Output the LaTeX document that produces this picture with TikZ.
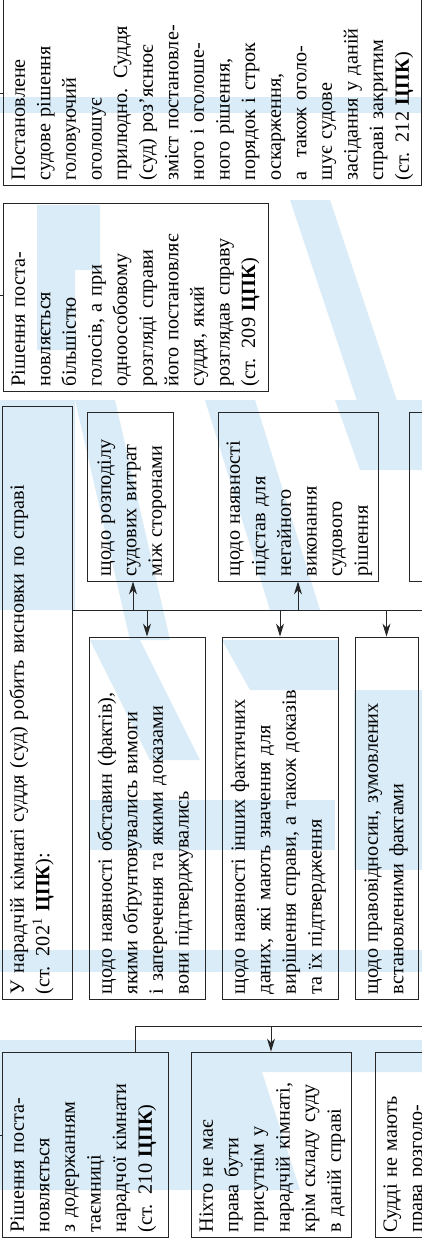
\documentclass[tikz,border=0pt]{standalone}
\usepackage{fontspec}
\setmainfont{Liberation Serif}
\usetikzlibrary{arrows.meta,calc}
\definecolor{wm}{RGB}{218,236,247}
\newcommand\mystrut{\rule{0pt}{15pt}}
\newcommand\mybox[5]{\node[box,minimum width={(#4-#2)*1pt},minimum height={(#5-#3)*1pt}] (#1) at ({(#2+#4)/2},{(#3+#5)/2}) {};}
\begin{document}
\begin{tikzpicture}[x=1pt,y=-1pt,
  box/.style={draw=black!85,line width=0.9pt,inner sep=0pt,rectangle},
  txt/.style={rotate=90,anchor=north west,inner sep=0pt,align=left,text width=560pt,font=\fontsize{20.2}{25.6}\selectfont},
  conn/.style={line width=0.9pt,draw=black!85},
  arr/.style={conn,-{Stealth[length=13pt,width=8pt]}},
  wmark/.style={fill=wm,draw=none}]
\useasboundingbox (0,0) rectangle (422,1247);
\clip (0,0) rectangle (422,1247);
\fill[white] (0,0) rectangle (422,1247);
% faint background watermark
\fill[wmark] (0,97) rectangle (422,113);
\fill[wmark] (0,950) rectangle (422,972);
\fill[wmark] (37,205) -- (100,205) -- (100,270) -- (75,270) -- (75,350) -- (37,350) -- cycle;
\fill[wmark] (290,200) -- (330,200) -- (400,410) -- (360,410) -- cycle;
\fill[wmark] (0,400) -- (75,400) -- (75,610) -- (0,610) -- cycle;
\fill[wmark] (75,400) -- (115,400) -- (170,640) -- (130,640) -- cycle;
\fill[wmark] (205,400) -- (255,400) -- (320,610) -- (270,610) -- cycle;
\fill[wmark] (335,400) -- (422,400) -- (422,470) -- (360,470) -- cycle;
\fill[wmark] (90,640) -- (140,640) -- (200,760) -- (150,760) -- cycle;
\fill[wmark] (222,640) -- (338,640) -- (338,690) -- (250,690) -- cycle;
\fill[wmark] (354,690) -- (422,690) -- (422,870) -- (354,870) -- cycle;
\fill[wmark] (90,800) -- (335,800) -- (335,850) -- (90,850) -- cycle;
\fill[wmark] (0,1040) -- (422,1040) -- (422,1072) -- (262,1072) -- (300,1190) -- (0,1190) -- cycle;
% boxes
\mybox{A}{3}{-20}{421}{185}
\mybox{B}{3}{203}{268}{391}
\mybox{C}{2}{406}{72}{999}
\mybox{D}{87}{412}{173}{581}
\mybox{E}{218}{412}{378}{581}
\mybox{F}{409}{412}{460}{581}
\mybox{G}{89}{637}{205}{999}
\mybox{H}{222}{637}{338}{999}
\mybox{I}{355}{637}{418}{999}
\mybox{J}{2}{1052}{168}{1237}
\mybox{K}{191}{1052}{351}{1237}
\mybox{L}{375}{1052}{460}{1237}
% texts
\node[txt] (At) at ($(A.south west)+(7pt,5pt)$) {\mystrut Постановлене\\судове рішення\\головуючий\\оголошує\\прилюдно. Суддя\\(суд) роз’яснює\\зміст постановле-\\ного і оголоше-\\ного рішення,\\порядок і строк\\оскарження,\\а \ також оголо-\\шує судове\\засідання у даній\\справі закритим\\(ст. 212 \textbf{ЦПК})};
\node[txt] (Bt) at ($(B.south west)+(7pt,5pt)$) {\mystrut Рішення поста-\\новляється\\більшістю\\голосів, а при\\одноособовому\\розгляді справи\\його постановляє\\суддя, який\\розглядав справу\\(ст. 209 \textbf{ЦПК})};
\node[txt] (Ct) at ($(C.south west)+(7pt,5pt)$) {\mystrut У нарадчій кімнаті суддя (суд) робить висновки по справі\\(ст. 202\textsuperscript{1} \textbf{ЦПК}):};
\node[txt] (Dt) at ($(D.south west)+(9pt,5pt)$) {\mystrut щодо розподілу\\судових витрат\\між сторонами};
\node[txt] (Et) at ($(E.south west)+(7pt,5pt)$) {\mystrut щодо наявності\\підстав для\\негайного\\виконання\\судового\\рішення};
\node[txt] (Gt) at ($(G.south west)+(8pt,5pt)$) {\mystrut щодо наявності обставин (фактів),\\якими обґрунтовувались вимоги\\і заперечення та якими доказами\\вони підтверджувались};
\node[txt] (Ht) at ($(H.south west)+(8pt,5pt)$) {\mystrut щодо наявності інших фактичних\\даних, які мають значення для\\вирішення справи, а також доказів\\та їх підтвердження};
\node[txt] (It) at ($(I.south west)+(8pt,5pt)$) {\mystrut щодо правовідносин, зумовлених\\встановленими фактами};
\node[txt] (Jt) at ($(J.south west)+(7pt,5pt)$) {\mystrut Рішення поста-\\новляється\\з додержанням\\таємниці\\нарадчої кімнати\\(ст. 210 \textbf{ЦПК})};
\node[txt] (Kt) at ($(K.south west)+(7pt,5pt)$) {\mystrut Ніхто не має\\права бути\\присутнім у\\нарадчій кімнаті,\\крім складу суду\\в даній справі};
\node[txt] (Lt) at ($(L.south west)+(7pt,5pt)$) {\mystrut Судді не мають\\права розголо-};
% connectors
\coordinate (y610) at (0,610);
\coordinate (bus1R) at (460,610);
\draw[conn] (C.east |- y610) -- (bus1R);
\draw[arr] ([xshift=3pt]D.south |- y610) -- ([xshift=3pt]D.south);
\draw[arr] (E.south |- y610) -- (E.south);
\draw[arr] (G.north |- y610) -- (G.north);
\draw[arr] (H.north |- y610) -- (H.north);
\draw[arr] (I.north |- y610) -- (I.north);
\coordinate (jx) at (135,1026);
\coordinate (bus2R) at (460,1026);
\draw[conn] (jx |- J.north) -- (jx) -- (bus2R);
\draw[arr] (K.north |- jx) -- (K.north);
% stubs to the left
\coordinate (tA) at (-5,93);
\coordinate (tB) at (-5,295);
\coordinate (tJ) at (-5,1135);
\draw[conn] (A.west |- tA) -- (tA);
\draw[conn] (B.west |- tB) -- (tB);
\draw[conn] (J.west |- tJ) -- (tJ);
\end{tikzpicture}
\end{document}
